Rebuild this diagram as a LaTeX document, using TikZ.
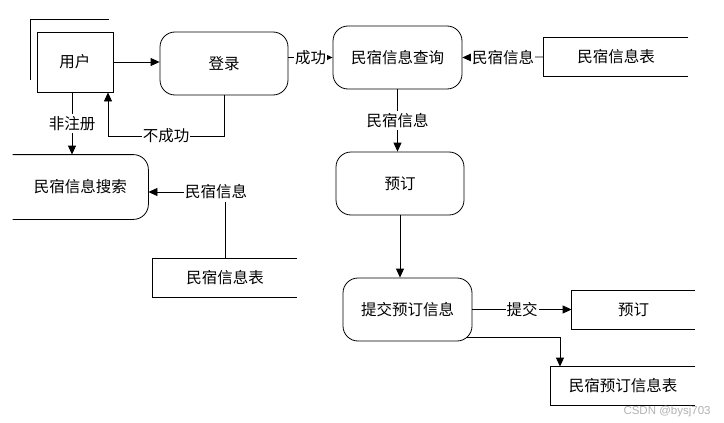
\documentclass[tikz,border=0pt]{standalone}
\usepackage{fontspec}
\setmainfont{Noto Sans CJK SC}
\newfontfamily\wmfont{Liberation Sans}
\usetikzlibrary{arrows.meta,calc}
\begin{document}
\begin{tikzpicture}[x=1pt,y=-1pt,
  line width=0.8pt,
  every node/.style={font=\fontsize{15.5pt}{17pt}\selectfont, inner sep=0pt},
  proc/.style={draw, rounded corners=15pt, minimum width=#1, minimum height=63pt},
  ent/.style={draw, minimum width=76pt, minimum height=60pt},
  store/.style={minimum width=#1, minimum height=38pt},
  lab/.style={fill=white, inner xsep=1pt, inner ysep=2pt},
  arr/.style={-{Triangle[length=9pt,width=8pt]}}]
\useasboundingbox (0,0) rectangle (724,423);
% nodes
\node[ent] (user) at (75,62) {用户};
\node[proc=128pt] (login) at (224,63.5) {登录};
\node[proc=129pt] (query) at (397.5,57.5) {民宿信息查询};
\node[minimum width=135pt, minimum height=64pt] (search) at (80.5,187) {民宿信息搜索};
\node[proc=128pt] (yd) at (400,183.5) {预订};
\node[proc=129pt] (submit) at (407.5,309.5) {提交预订信息};
\node[store=144pt] (tableL) at (225,278) {民宿信息表};
\node[store=144pt] (tableR) at (616,57) {民宿信息表};
\node[store=123pt] (tableY) at (633.5,310) {预订};
\node[store=144pt] (tableYD) at (623,386) {民宿预订信息表};
% user frame
\draw (30,80) -- (30,19) -- (109,19);
% search box open on left
\draw[rounded corners=15pt] (search.north west) -- (search.north east) -- (search.south east) -- (search.south west);
% stores
\foreach \t in {tableL,tableR,tableY,tableYD}
  \draw (\t.north east) -- (\t.north west) -- (\t.south west) -- (\t.south east);
% connectors
\draw[arr] (user.east) -- (user.east -| login.west);
\draw[arr] (login.east |- query.west) -- node[lab]{成功} (query.west);
\coordinate (nb) at (108,136);
\draw[arr] (login.south) |- node[lab,pos=0.75]{不成功} (nb) -- (nb |- user.south);
\draw[arr] ([xshift=-3pt]user.south) -- node[lab]{非注册} ([xshift=-3pt]user.south |- search.north);
\node[lab] (lblS) at (216,192) {民宿信息};
\draw (tableL.north) -- (tableL.north |- lblS.south);
\draw[arr] (lblS.west) -- (lblS.west -| search.east);
\draw[arr] (tableR.west) -- node[lab]{民宿信息} (query.east);
\draw[arr] (query.south) -- node[lab]{民宿信息} (query.south |- yd.north);
\draw[arr] (yd.south) -- (yd.south |- submit.north);
\draw[arr] (submit.east) -- node[lab]{提交} (submit.east -| tableY.west);
\coordinate (sd) at (467,337);
\coordinate (dx) at (560,337);
\draw[arr] (sd) -- (dx) -- (dx |- tableYD.north);
% watermark
\node[font=\wmfont\fontsize{11.5pt}{12pt}\selectfont, text=black!30, anchor=east] (wm) at (711,412) {CSDN @bysj703};
\end{tikzpicture}
\end{document}
